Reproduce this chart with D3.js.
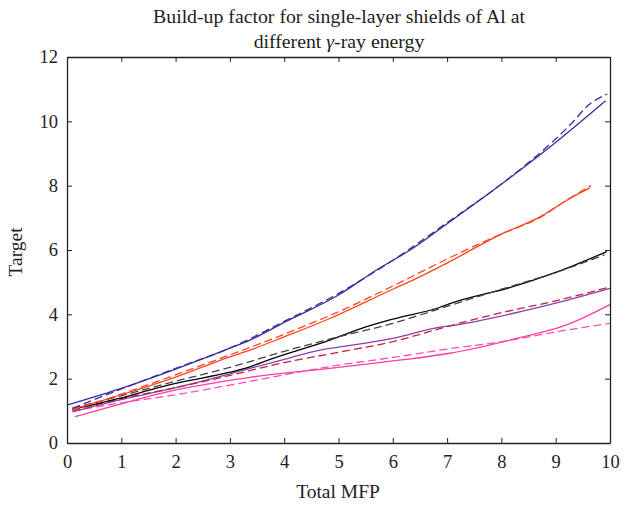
<!DOCTYPE html>
<html><head><meta charset="utf-8">
<script src="https://cdn.jsdelivr.net/npm/d3@7"></script>
<style>body{margin:0;background:#fff}svg{display:block}</style>
</head><body><svg id="c" width="626" height="508"></svg>
<script>
const xTicks = [0,1,2,3,4,5,6,7,8,9,10];
const yTicks = [0,2,4,6,8,10,12];

const blueX   = [0, 1, 2, 3, 3.37, 4, 5, 5.7, 6.32, 7.05, 7.85, 8.9, 9.92];
const blueY   = [1.18, 1.7, 2.3, 2.95, 3.2, 3.75, 4.6, 5.38, 6.0, 6.88, 7.86, 9.21, 10.64];
const blueDX  = [0.1, 1, 2, 3, 4, 5, 6, 7, 8, 8.9, 9.3, 9.6, 9.95];
const blueDY  = [1.08, 1.68, 2.32, 2.95, 3.78, 4.65, 5.68, 6.85, 8.05, 9.3, 9.95, 10.5, 10.85];

const orX  = [0.1, 1, 2, 3, 3.37, 4, 4.84, 6, 6.38, 7.05, 7.97, 8.71, 9.26, 9.63];
const orY  = [1.05, 1.5, 2.05, 2.68, 2.89, 3.3, 3.87, 4.78, 5.07, 5.64, 6.47, 7.03, 7.6, 7.93];
const orDX = [0.1, 1, 2, 3, 4, 5, 6, 7, 8, 8.7, 9.2, 9.65];
const orDY = [1.02, 1.52, 2.12, 2.74, 3.38, 4.08, 4.88, 5.72, 6.5, 7.0, 7.55, 8.0];

const blkX  = [0.1, 1, 1.53, 2, 3, 3.37, 3.74, 4.84, 5.4, 6, 6.87, 7.05, 8.21, 9.2, 9.94];
const blkY  = [1.05, 1.4, 1.65, 1.85, 2.2, 2.37, 2.6, 3.2, 3.55, 3.85, 4.22, 4.33, 4.86, 5.43, 5.95];
const blkDX = [0.1, 1, 2, 3, 4, 5, 6, 7, 8, 9, 9.9];
const blkDY = [1.08, 1.47, 1.92, 2.35, 2.85, 3.3, 3.72, 4.25, 4.78, 5.3, 5.85];

const purX  = [0.1, 1, 1.53, 2, 3, 3.37, 4, 4.66, 5, 6, 6.87, 7.05, 8.47, 9, 10];
const purY  = [0.97, 1.35, 1.54, 1.72, 2.15, 2.32, 2.6, 2.89, 2.98, 3.25, 3.6, 3.64, 4.13, 4.35, 4.81];
const purDX = [0.1, 1, 2, 3, 4, 5, 6, 7, 8, 9, 10];
const purDY = [1.02, 1.38, 1.72, 2.1, 2.5, 2.82, 3.15, 3.62, 4.05, 4.42, 4.85];

const pnkX  = [0.15, 1, 2, 3, 3.4, 4, 4.84, 6, 6.25, 7.05, 8.28, 9.2, 10];
const pnkY  = [0.82, 1.22, 1.65, 1.95, 2.05, 2.17, 2.32, 2.55, 2.6, 2.79, 3.25, 3.67, 4.3];
const pnkDX = [0.1, 1, 2, 3, 4, 5, 6, 7, 8, 8.28, 9.2, 10];
const pnkDY = [1.0, 1.25, 1.5, 1.8, 2.12, 2.42, 2.66, 2.92, 3.15, 3.23, 3.51, 3.72];

const seriesList = [
  {x: pnkX,  y: pnkY,  color: "#ff3c9e", dash: null},
  {x: pnkDX, y: pnkDY, color: "#ff4cb0", dash: "8,4"},
  {x: purX,  y: purY,  color: "#8a3eae", dash: null},
  {x: purDX, y: purDY, color: "#c2203e", dash: "8,4"},
  {x: blkX,  y: blkY,  color: "#000000", dash: null},
  {x: blkDX, y: blkDY, color: "#444444", dash: "8,4"},
  {x: orX,   y: orY,   color: "#ff4422", dash: null},
  {x: orDX,  y: orDY,  color: "#ff4422", dash: "8,4"},
  {x: blueX, y: blueY, color: "#3a2c9c", dash: null},
  {x: blueDX,y: blueDY,color: "#3a2c9c", dash: "8,4"}
];

const FONT = "'Liberation Serif', 'Times New Roman', Times, serif";
const L = 67, R = 610, T = 57, B = 443;
const svg = d3.select("#c");
const x = d3.scaleLinear().domain([0,10]).range([L,R]);
const y = d3.scaleLinear().domain([0,12]).range([B,T]);

const line = d3.line().x(d => x(d[0])).y(d => y(d[1])).curve(d3.curveMonotoneX);
seriesList.forEach(s => {
  svg.append("path")
    .datum(s.x.map((v,i) => [v, s.y[i]]))
    .attr("d", line)
    .attr("fill", "none")
    .attr("stroke", s.color)
    .attr("stroke-width", 1.3)
    .attr("stroke-dasharray", s.dash);
});

const ax = svg.append("g");
const fmt = d3.format("d");
ax.append("g").attr("transform", `translate(0,${B})`)
  .call(d3.axisBottom(x).tickValues(xTicks).tickFormat(fmt).tickSizeInner(-5).tickSizeOuter(0).tickPadding(12));
ax.append("g").attr("transform", `translate(0,${T})`)
  .call(d3.axisTop(x).tickValues(xTicks).tickFormat("").tickSizeInner(-5).tickSizeOuter(0));
ax.append("g").attr("transform", `translate(${L},0)`)
  .call(d3.axisLeft(y).tickValues(yTicks).tickFormat(fmt).tickSizeInner(-5).tickSizeOuter(0).tickPadding(9));
ax.append("g").attr("transform", `translate(${R},0)`)
  .call(d3.axisRight(y).tickValues(yTicks).tickFormat("").tickSizeInner(-5).tickSizeOuter(0));
ax.selectAll("g").attr("font-family", null);
ax.selectAll("path.domain").attr("stroke", "#222").attr("stroke-width", 1.3);
ax.selectAll(".tick line").attr("stroke", "#222").attr("stroke-width", 1);
ax.selectAll(".tick text").style("font-family", FONT).style("font-size", "18.5px").style("fill", "#222");

function txt(xp, yp, size) {
  return svg.append("text").attr("x", xp).attr("y", yp).attr("text-anchor", "middle")
    .style("font-family", FONT).style("font-size", size + "px").style("fill", "#222");
}
txt(339, 23, 19.8).text("Build-up factor for single-layer shields of Al at");
const t2 = txt(339, 48, 19.8);
t2.append("tspan").text("different ");
t2.append("tspan").style("font-style", "italic").text("γ");
t2.append("tspan").text("-ray energy");

txt(338, 498, 19.5).text("Total MFP");
txt(0, 0, 19.5).attr("transform", "translate(22,252) rotate(-90)").text("Target");
</script></body></html>
